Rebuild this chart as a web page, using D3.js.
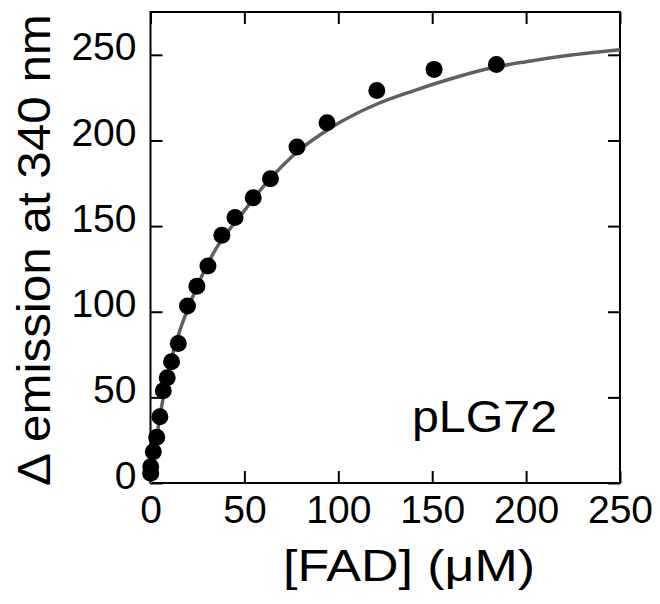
<!DOCTYPE html>
<html>
<head>
<meta charset="utf-8">
<script src="https://cdn.jsdelivr.net/npm/d3@7"></script>
<style>
  html, body { margin: 0; padding: 0; background: #fff; }
  svg { display: block; }
  text { font-family: "Liberation Sans", Arial, Helvetica, sans-serif; fill: #000; }
</style>
</head>
<body>
<svg id="chart" width="660" height="604"></svg>
<script>
// ---- data ----
const fadConc = [0.1, 0.1, 1.5, 3.3, 5.0, 6.8, 8.9, 11.2, 14.8, 19.7, 24.7, 30.6, 38.0, 45.0, 54.7, 63.9, 78.0, 94.0, 120.5, 151.0, 184.2];
const emission = [5.7, 9.5, 18.3, 26.7, 38.7, 53.8, 61.4, 70.8, 81.5, 103.4, 114.9, 126.7, 144.6, 155.0, 166.6, 177.6, 196.2, 210.4, 229.2, 241.5, 244.3];

// fitted curve
const fitX = [0, 2, 4, 6, 8, 10, 12, 15, 20, 25, 30, 35, 40, 50, 60, 70, 80, 90, 100, 120, 140, 160, 180, 200, 225, 250];
const fitY = [0, 17, 32, 45, 57, 67, 76, 87, 102, 115, 127, 137, 145, 159, 173, 185, 195, 203, 210, 221, 229, 236, 242, 246, 250, 253];

const xTicks = [0, 50, 100, 150, 200, 250];
const yTicks = [0, 50, 100, 150, 200, 250];
const xDomain = [0, 250];
const yDomain = [0, 275];

const xTitle = "[FAD] (\u03BCM)";
const yTitle = "\u0394 emission at 340 nm";
const sampleLabel = "pLG72";

// ---- layout ----
const L = 150.5, R = 620, T = 12, B = 483;
const svg = d3.select("#chart");

const x = d3.scaleLinear().domain(xDomain).range([L, R]);
const y = d3.scaleLinear().domain(yDomain).range([B, T]);

const tickFs = 39;

// bottom axis
const gB = svg.append("g").attr("transform", `translate(0,${B})`)
  .call(d3.axisBottom(x).tickValues(xTicks).tickSizeInner(-12).tickSizeOuter(0).tickFormat(d3.format("d")));
gB.selectAll("text").attr("y", 40).attr("dy", null)
  .style("font-size", tickFs + "px").attr("text-anchor", "middle");

// left axis
const gL = svg.append("g").attr("transform", `translate(${L},0)`)
  .call(d3.axisLeft(y).tickValues(yTicks).tickSizeInner(-12).tickSizeOuter(0).tickFormat(d3.format("d")));
gL.selectAll("text").attr("x", -14).attr("dy", null).attr("y", 5)
  .style("font-size", tickFs + "px").attr("text-anchor", "end");

// top axis (ticks only)
svg.append("g").attr("transform", `translate(0,${T})`)
  .call(d3.axisTop(x).tickValues(xTicks).tickSizeInner(-12).tickSizeOuter(0).tickFormat(""));
// right axis (ticks only)
svg.append("g").attr("transform", `translate(${R},0)`)
  .call(d3.axisRight(y).tickValues(yTicks).tickSizeInner(-12).tickSizeOuter(0).tickFormat(""));

svg.selectAll(".domain").remove();
svg.selectAll(".tick line").attr("stroke", "#000").attr("stroke-width", 2);

// frame
svg.append("rect")
  .attr("x", x(xDomain[0])).attr("y", y(yDomain[1]))
  .attr("width", x(xDomain[1]) - x(xDomain[0]))
  .attr("height", y(yDomain[0]) - y(yDomain[1]))
  .attr("fill", "none").attr("stroke", "#000").attr("stroke-width", 2);

// fitted curve
const fit = fitX.map((d, i) => [d, fitY[i]]);
svg.append("path")
  .datum(fit)
  .attr("fill", "none")
  .attr("stroke", "#606060")
  .attr("stroke-width", 3.5)
  .attr("d", d3.line().x(d => x(d[0])).y(d => y(d[1])).curve(d3.curveMonotoneX));

// data points
const pts = fadConc.map((d, i) => [d, emission[i]]);
svg.append("g").selectAll("circle")
  .data(pts).join("circle")
  .attr("cx", d => x(d[0])).attr("cy", d => y(d[1]))
  .attr("r", 8.5).attr("fill", "#000");

// sample label
svg.append("text")
  .attr("x", 412).attr("y", 432)
  .attr("textLength", 145).attr("lengthAdjust", "spacingAndGlyphs")
  .style("font-size", "44px")
  .text(sampleLabel);

// x title
svg.append("text")
  .attr("x", 283).attr("y", 581)
  .attr("textLength", 252).attr("lengthAdjust", "spacingAndGlyphs")
  .style("font-size", "44px")
  .text(xTitle);

// y title
svg.append("text")
  .attr("transform", "translate(50,250) rotate(-90)")
  .attr("text-anchor", "middle")
  .attr("textLength", 472).attr("lengthAdjust", "spacingAndGlyphs")
  .style("font-size", "46px")
  .text(yTitle);
</script>
</body>
</html>
